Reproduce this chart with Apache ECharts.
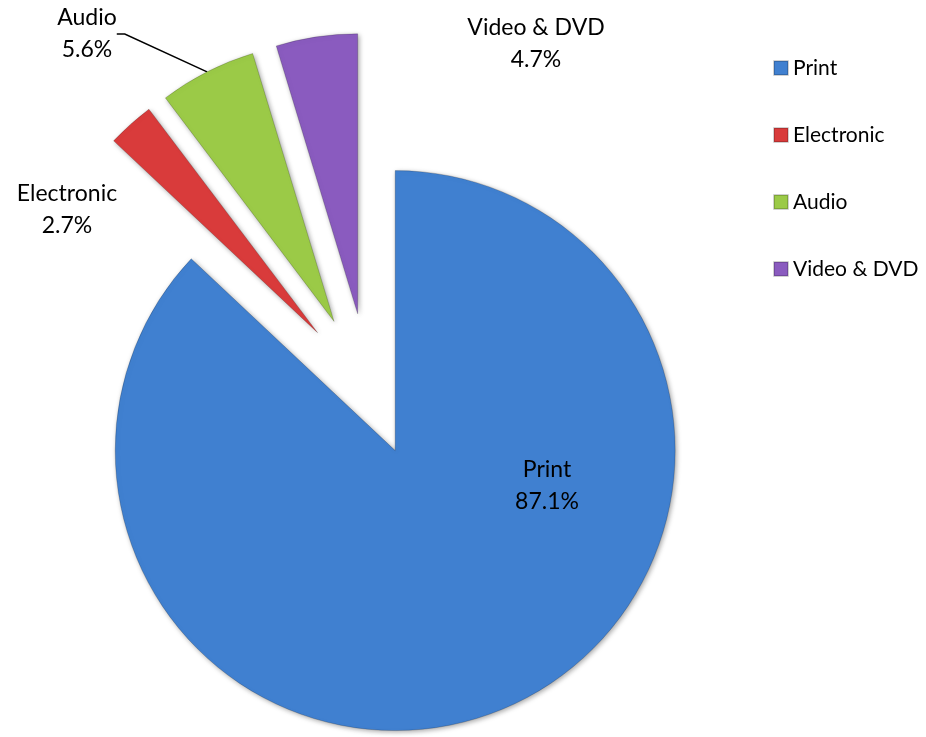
<!DOCTYPE html>
<html><head><meta charset="utf-8">
<script src="https://cdn.jsdelivr.net/npm/echarts@6/dist/echarts.min.js"></script>
<style>html,body{margin:0;padding:0;background:#fff}#c{width:926px;height:737px}</style>
</head><body><div id="c"></div><script>
// ---- data ----
const categories = ['Print', 'Electronic', 'Audio', 'Video & DVD'];
const shares = [87.1, 2.7, 5.6, 4.7];
const colors = ['#4080d0', '#d93b3b', '#9bca47', '#8a5bbf'];

// ---- layout / style ----
const CENTER = [369, 390];
const RADIUS = 280;
const explode = [66, 77, 77, 77];
const labelPos = [[547, 486], [67, 210], [87, 34], [536, 44]];
const FONT = 'Lato, "Open Sans", sans-serif';

const total = shares.reduce(function (a, b) { return a + b; }, 0);

function sliceSeries(k) {
  // mid-angle of slice k, clockwise from 12 o'clock
  let before = 0;
  for (let j = 0; j < k; j++) before += shares[j];
  const mid = (before + shares[k] / 2) / total * 2 * Math.PI;
  const cx = CENTER[0] + explode[k] * Math.sin(mid);
  const cy = CENTER[1] - explode[k] * Math.cos(mid);
  return {
    type: 'pie',
    center: [cx, cy],
    radius: RADIUS,
    startAngle: 90,
    clockwise: true,
    avoidLabelOverlap: false,
    emphasis: { disabled: true },
    animation: false,
    label: {
      show: true,
      formatter: '{b}\n{c}%',
      fontFamily: FONT,
      fontSize: 23,
      lineHeight: 32,
      color: '#000',
      align: 'center'
    },
    labelLayout: function (p) {
      if (p.dataIndex !== k) return {};
      const pos = labelPos[k];
      return { x: pos[0], y: pos[1], align: 'center', verticalAlign: 'middle' };
    },
    data: categories.map(function (name, i) {
      if (i === k) {
        return {
          name: name,
          value: shares[i],
          itemStyle: {
            color: colors[i],
            borderColor: 'rgba(0,0,0,0.18)',
            borderWidth: 1,
            shadowBlur: 5,
            shadowOffsetX: 1.5,
            shadowOffsetY: 1.5,
            shadowColor: 'rgba(0,0,0,0.35)'
          },
          labelLine: {
            show: i === 2,
            length: 12,
            length2: 8,
            lineStyle: { color: '#000', width: 1.5 }
          }
        };
      }
      return {
        name: '\u200b' + k + '_' + i,
        value: shares[i],
        itemStyle: { color: 'rgba(0,0,0,0)' },
        label: { show: false },
        labelLine: { show: false }
      };
    })
  };
}

const chart = echarts.init(document.getElementById('c'), null, { renderer: 'canvas' });
chart.setOption({
  backgroundColor: '#fff',
  animation: false,
  legend: {
    orient: 'vertical',
    left: 773,
    top: 55,
    padding: 0,
    data: categories,
    icon: 'rect',
    itemWidth: 14,
    itemHeight: 14,
    itemGap: 41,
    itemTextGap: 6,
    selectedMode: false,
    textStyle: { fontFamily: FONT, fontSize: 21, color: '#000', lineHeight: 26 }
  },
  series: categories.map(function (_, k) { return sliceSeries(k); })
});
</script></body></html>
